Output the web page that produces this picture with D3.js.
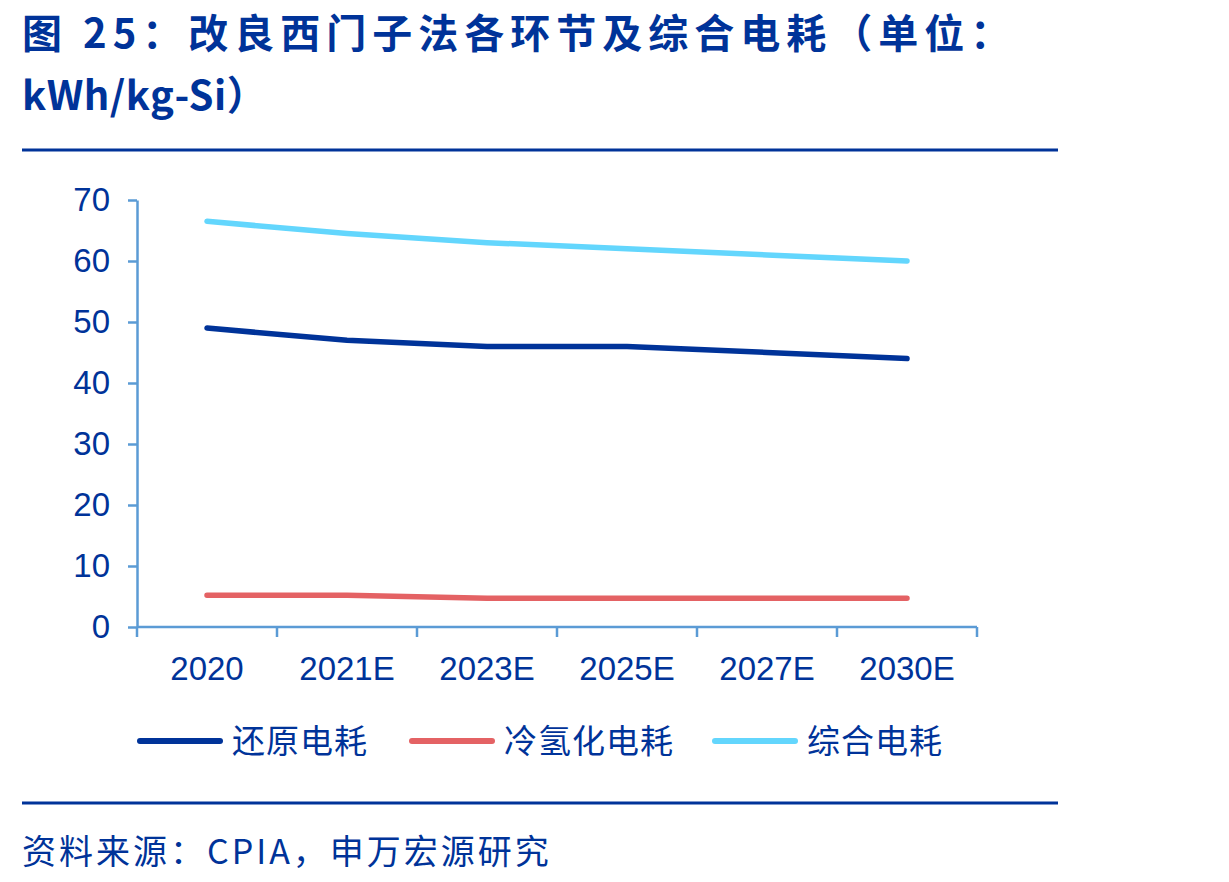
<!DOCTYPE html>
<html>
<head>
<meta charset="utf-8">
<script src="https://cdn.jsdelivr.net/npm/d3@7"></script>
<style>
  body { margin: 0; background: #fff; }
  svg { display: block; }
</style>
</head>
<body>
<svg id="chart"></svg>
<script>
// data
var categories = ["2020", "2021E", "2023E", "2025E", "2027E", "2030E"]
var reduction = [49, 47, 46, 46, 45, 44]
var coldHydro = [5.2, 5.2, 4.7, 4.7, 4.7, 4.7]
var total = [66.5, 64.5, 63, 62, 61, 60]
var seriesNames = ["还原电耗", "冷氢化电耗", "综合电耗"]
var yTicks = [0, 10, 20, 30, 40, 50, 60, 70]

var width = 1229, height = 882
var navy = "#003399", axisColor = "#5b9bd5"
var colors = ["#003399", "#e46264", "#63d6fd"]
var margin = ({top: 200, right: 252, bottom: 255, left: 137})

var svg = d3.select("#chart").attr("width", width).attr("height", height)
var cjk = "'Noto Sans CJK SC', 'Noto Sans', sans-serif"
var latin = "'Liberation Sans', Arial, sans-serif"

// title
svg.append("text")
  .attr("x", 22).attr("y", 48)
  .attr("fill", navy).attr("font-family", cjk).attr("font-weight", "bold")
  .attr("font-size", 40).attr("letter-spacing", 6)
  .text("图  25：改良西门子法各环节及综合电耗（单位：")
svg.append("text")
  .attr("x", 22).attr("y", 110)
  .attr("fill", navy).attr("font-family", cjk).attr("font-weight", "bold")
  .attr("font-size", 40).attr("letter-spacing", 0.5)
  .text("kWh/kg-Si）")

// rules
svg.append("line").attr("x1", 22).attr("x2", 1058).attr("y1", 150).attr("y2", 150)
  .attr("stroke", navy).attr("stroke-width", 3)
svg.append("line").attr("x1", 22).attr("x2", 1058).attr("y1", 803).attr("y2", 803)
  .attr("stroke", navy).attr("stroke-width", 3)

var x = d3.scaleBand()
  .domain(categories)
  .range([margin.left, width - margin.right])
  .padding(0)

var y = d3.scaleLinear()
  .domain([0, 70])
  .range([height - margin.bottom, margin.top])

// y axis
var yAxis = g => g
  .attr("transform", `translate(${margin.left},0)`)
  .call(d3.axisLeft(y).tickValues(yTicks).tickSize(9).tickSizeOuter(0).tickPadding(18))
  .call(g => g.select(".domain").attr("stroke", axisColor).attr("stroke-width", 2.5))
  .call(g => g.selectAll(".tick line").attr("stroke", axisColor).attr("stroke-width", 2.5))
  .call(g => g.selectAll(".tick text")
      .attr("fill", navy).attr("font-family", latin).attr("font-size", 33))
svg.append("g").call(yAxis)

// x axis: baseline plus ticks on band edges
var xg = svg.append("g").attr("transform", `translate(0,${y(0)})`)
xg.append("line").attr("x1", margin.left).attr("x2", width - margin.right)
  .attr("stroke", axisColor).attr("stroke-width", 2.5)
var edges = categories.map(c => x(c)).concat([x(categories[categories.length - 1]) + x.bandwidth()])
xg.selectAll("line.tk").data(edges).join("line").attr("class", "tk")
  .attr("x1", d => d).attr("x2", d => d).attr("y1", 0).attr("y2", 10)
  .attr("stroke", axisColor).attr("stroke-width", 2.5)
xg.selectAll("text").data(categories).join("text")
  .attr("x", d => x(d) + x.bandwidth() / 2).attr("y", 53)
  .attr("text-anchor", "middle")
  .attr("fill", navy).attr("font-family", latin).attr("font-size", 33)
  .text(d => d)

// lines
var line = d3.line()
  .x((d, i) => x(categories[i]) + x.bandwidth() / 2)
  .y(d => y(d))

var allSeries = [reduction, coldHydro, total]
svg.append("g").selectAll("path").data(allSeries).join("path")
  .attr("d", d => line(d))
  .attr("fill", "none")
  .attr("stroke", (d, i) => colors[i])
  .attr("stroke-width", 5.5)
  .attr("stroke-linecap", "round")
  .attr("stroke-linejoin", "round")

// legend
var legendX = [140, 412, 715]
var lg = svg.append("g").selectAll("g").data(seriesNames).join("g")
  .attr("transform", (d, i) => `translate(${legendX[i]},741)`)
lg.append("line").attr("x1", 0).attr("x2", 80)
  .attr("stroke", (d, i) => colors[i]).attr("stroke-width", 6).attr("stroke-linecap", "round")
lg.append("text").attr("x", 92).attr("y", 12)
  .attr("fill", navy).attr("font-family", cjk).attr("font-size", 33).attr("letter-spacing", 1)
  .text(d => d)

// source
svg.append("text")
  .attr("x", 22).attr("y", 864)
  .attr("fill", navy).attr("font-family", cjk).attr("font-size", 34).attr("letter-spacing", 3)
  .text("资料来源：CPIA，申万宏源研究")
</script>
</body>
</html>
